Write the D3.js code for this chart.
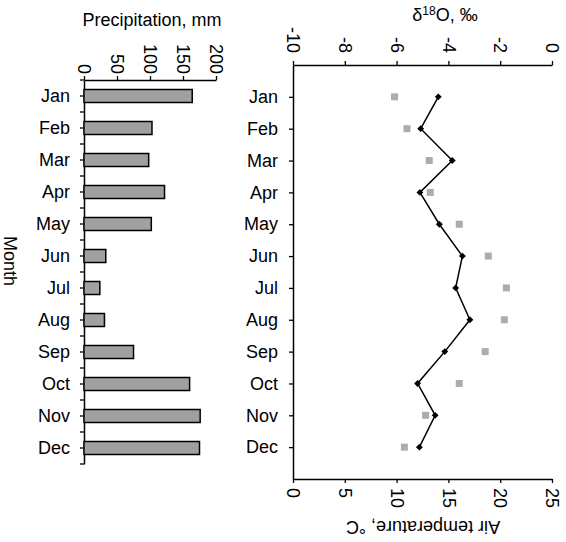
<!DOCTYPE html>
<html>
<head>
<meta charset="utf-8">
<script src="https://cdn.jsdelivr.net/npm/d3@7"></script>
<style>
  body { margin: 0; background: #fff; }
  text { font-family: "Liberation Sans", Arial, sans-serif; fill: #000; }
</style>
</head>
<body>
<div id="chart"></div>
<script>
// Data
var months = ["Jan", "Feb", "Mar", "Apr", "May", "Jun", "Jul", "Aug", "Sep", "Oct", "Nov", "Dec"];
var precipitation = [164, 103, 98, 122, 102, 33, 24, 31, 75, 160, 176, 175];
var delta18O = [-4.39, -5.07, -3.85, -5.10, -4.35, -3.46, -3.72, -3.17, -4.14, -5.19, -4.51, -5.12];
var airTemp = [9.8, 11.0, 13.15, 13.25, 16.05, 18.85, 20.6, 20.4, 18.55, 16.05, 12.8, 10.75];
var precipTicks = [0, 50, 100, 150, 200];
var deltaTicks = [-10, -8, -6, -4, -2, 0];
var deltaTickLabels = ["-10", "-8", "-6", "-4", "-2", "0"];
var tempTicks = [0, 5, 10, 15, 20, 25];

var svgWidth = 566;
var svgHeight = 542;
var fontSize = 18;

var svg = d3.select("#chart")
  .append("svg")
  .attr("width", svgWidth)
  .attr("height", svgHeight);

// ---------- left panel: precipitation bars ----------
var precipX = d3.scaleLinear().domain([0, 200]).range([84, 216]);
var precipY = d3.scaleBand().domain(months).range([80, 464]);

// top axis
var precipAxis = svg.append("g")
  .attr("transform", "translate(0, 80)")
  .call(d3.axisTop(precipX).tickValues(precipTicks).tickSize(4).tickSizeOuter(0));

precipAxis.selectAll("text")
  .attr("transform", "rotate(90)")
  .attr("x", -6)
  .attr("y", 0)
  .attr("dy", "0.35em")
  .attr("text-anchor", "end")
  .style("font-size", fontSize + "px");

// left axis, ticks at band boundaries
var leftAxis = svg.append("g")
  .attr("transform", "translate(84, 0)")
  .call(d3.axisLeft(precipY).tickSize(0).tickPadding(14));
leftAxis.selectAll("text").style("font-size", fontSize + "px");

var boundaries = months.map(function(m) { return precipY(m); }).concat([precipY.range()[1]]);
svg.append("g").selectAll("line")
  .data(boundaries)
  .enter()
  .append("line")
  .attr("x1", 80).attr("x2", 84)
  .attr("y1", d => d).attr("y2", d => d)
  .attr("stroke", "#000")
  .attr("stroke-width", 1.3);
svg.append("g").selectAll("line")
  .data(months)
  .enter()
  .append("line")
  .attr("x1", 80).attr("x2", 84)
  .attr("y1", d => precipY(d) + precipY.bandwidth() / 2)
  .attr("y2", d => precipY(d) + precipY.bandwidth() / 2)
  .attr("stroke", "#000")
  .attr("stroke-width", 1.3);

// bars
var barH = 13;
svg.append("g").selectAll("rect")
  .data(months)
  .enter()
  .append("rect")
  .attr("x", precipX(0))
  .attr("y", d => precipY(d) + precipY.bandwidth() / 2 - barH / 2)
  .attr("width", (d, i) => precipX(precipitation[i]) - precipX(0))
  .attr("height", barH)
  .attr("fill", "#a0a0a0")
  .attr("stroke", "#000")
  .attr("stroke-width", 1.5);

// titles
svg.append("text")
  .attr("x", 152)
  .attr("y", 26)
  .attr("text-anchor", "middle")
  .style("font-size", fontSize + "px")
  .text("Precipitation, mm");

svg.append("text")
  .attr("transform", "translate(4, 261) rotate(90)")
  .attr("text-anchor", "middle")
  .style("font-size", fontSize + "px")
  .text("Month");

// ---------- right panel: d18O and temperature ----------
var deltaX = d3.scaleLinear().domain([-10, 0]).range([293, 552]);
var tempX = d3.scaleLinear().domain([0, 25]).range([293, 552]);
var monthY = d3.scalePoint().domain(months).range([65, 479]).padding(1);

var deltaAxis = svg.append("g")
  .attr("transform", "translate(0, 65)")
  .call(d3.axisTop(deltaX).tickValues(deltaTicks)
    .tickFormat((d, i) => deltaTickLabels[i]).tickSize(4).tickSizeOuter(0));
deltaAxis.selectAll("text")
  .attr("transform", "rotate(90)")
  .attr("x", -12)
  .attr("y", 0)
  .attr("dy", "0.35em")
  .attr("text-anchor", "end")
  .style("font-size", fontSize + "px");

var tempAxis = svg.append("g")
  .attr("transform", "translate(0, 479)")
  .call(d3.axisBottom(tempX).tickValues(tempTicks).tickSize(4).tickSizeOuter(0));
tempAxis.selectAll("text")
  .attr("transform", "rotate(90)")
  .attr("x", 9)
  .attr("y", 0)
  .attr("dy", "0.35em")
  .attr("text-anchor", "start")
  .style("font-size", fontSize + "px");

var monthAxis = svg.append("g")
  .attr("transform", "translate(293, 0)")
  .call(d3.axisLeft(monthY).tickSize(4).tickPadding(11).tickSizeOuter(0));
monthAxis.selectAll("text").style("font-size", fontSize + "px");

svg.selectAll(".domain").attr("stroke", "#000").attr("stroke-width", 1.5);
svg.selectAll(".tick line").attr("stroke", "#000").attr("stroke-width", 1.3);

// temperature squares
var sq = 7;
svg.append("g").selectAll("rect")
  .data(months)
  .enter()
  .append("rect")
  .attr("x", (d, i) => tempX(airTemp[i]) - sq / 2)
  .attr("y", d => monthY(d) - sq / 2)
  .attr("width", sq)
  .attr("height", sq)
  .attr("fill", "#acacac");

// d18O line with diamonds
var line = d3.line()
  .x((d, i) => deltaX(delta18O[i]))
  .y(d => monthY(d));

svg.append("path")
  .datum(months)
  .attr("d", line)
  .attr("fill", "none")
  .attr("stroke", "#000")
  .attr("stroke-width", 1.5);

svg.append("g").selectAll("path")
  .data(months)
  .enter()
  .append("path")
  .attr("d", d3.symbol().type(d3.symbolDiamond2).size(30))
  .attr("transform", (d, i) => `translate(${deltaX(delta18O[i])}, ${monthY(d)})`)
  .attr("fill", "#000");

// titles
var dTitle = svg.append("text")
  .attr("x", 445)
  .attr("y", 21)
  .attr("text-anchor", "middle")
  .style("font-size", fontSize + "px");
dTitle.append("tspan").text("δ");
dTitle.append("tspan").attr("dy", -6).style("font-size", "12px").text("18");
dTitle.append("tspan").attr("dy", 6).text("O, ‰");

svg.append("text")
  .attr("transform", "translate(423, 521) rotate(180)")
  .attr("text-anchor", "middle")
  .style("font-size", fontSize + "px")
  .text("Air temperature, °C");
</script>
</body>
</html>
